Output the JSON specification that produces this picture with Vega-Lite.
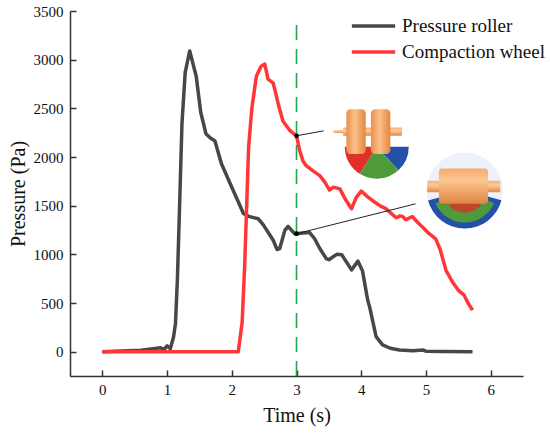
{
  "$schema": "https://vega.github.io/schema/vega-lite/v6.json",
  "width": 453,
  "height": 365,
  "autosize": "none",
  "padding": {"left": 70, "top": 11, "right": 27, "bottom": 59},
  "background": "white",
  "config": {
    "view": {"stroke": null},
    "font": "Liberation Serif",
    "axis": {
      "grid": false,
      "domainColor": "#333333",
      "domainWidth": 1.5,
      "tickColor": "#333333",
      "tickWidth": 1.5,
      "tickSize": -6,
      "labelFont": "Liberation Serif",
      "labelFontSize": 15,
      "labelColor": "#111111",
      "labelOverlap": false,
      "titleFont": "Liberation Serif",
      "titleFontSize": 20,
      "titleFontWeight": "normal",
      "titleColor": "#111111"
    }
  },
  "datasets": {
    "curves": [
      {"series": "Pressure roller", "t": 0, "p": 0},
      {"series": "Pressure roller", "t": 0.3, "p": 8},
      {"series": "Pressure roller", "t": 0.6, "p": 15},
      {"series": "Pressure roller", "t": 0.9, "p": 40},
      {"series": "Pressure roller", "t": 0.95, "p": 22},
      {"series": "Pressure roller", "t": 1.0, "p": 60},
      {"series": "Pressure roller", "t": 1.05, "p": 30},
      {"series": "Pressure roller", "t": 1.1, "p": 150},
      {"series": "Pressure roller", "t": 1.13, "p": 290},
      {"series": "Pressure roller", "t": 1.16, "p": 750},
      {"series": "Pressure roller", "t": 1.19, "p": 1420},
      {"series": "Pressure roller", "t": 1.23, "p": 2340},
      {"series": "Pressure roller", "t": 1.28, "p": 2870},
      {"series": "Pressure roller", "t": 1.35, "p": 3090},
      {"series": "Pressure roller", "t": 1.45, "p": 2830},
      {"series": "Pressure roller", "t": 1.52, "p": 2460},
      {"series": "Pressure roller", "t": 1.6, "p": 2240},
      {"series": "Pressure roller", "t": 1.67, "p": 2195},
      {"series": "Pressure roller", "t": 1.74, "p": 2165},
      {"series": "Pressure roller", "t": 1.84, "p": 1930},
      {"series": "Pressure roller", "t": 1.9, "p": 1840},
      {"series": "Pressure roller", "t": 2.0, "p": 1690},
      {"series": "Pressure roller", "t": 2.1, "p": 1540},
      {"series": "Pressure roller", "t": 2.18, "p": 1420},
      {"series": "Pressure roller", "t": 2.26, "p": 1390},
      {"series": "Pressure roller", "t": 2.41, "p": 1365},
      {"series": "Pressure roller", "t": 2.49, "p": 1300},
      {"series": "Pressure roller", "t": 2.64, "p": 1145},
      {"series": "Pressure roller", "t": 2.7, "p": 1050},
      {"series": "Pressure roller", "t": 2.74, "p": 1058},
      {"series": "Pressure roller", "t": 2.82, "p": 1246},
      {"series": "Pressure roller", "t": 2.87, "p": 1287},
      {"series": "Pressure roller", "t": 2.97, "p": 1212},
      {"series": "Pressure roller", "t": 3.0, "p": 1212},
      {"series": "Pressure roller", "t": 3.1, "p": 1220},
      {"series": "Pressure roller", "t": 3.2, "p": 1225},
      {"series": "Pressure roller", "t": 3.28, "p": 1160},
      {"series": "Pressure roller", "t": 3.36, "p": 1060},
      {"series": "Pressure roller", "t": 3.46, "p": 956},
      {"series": "Pressure roller", "t": 3.5, "p": 945},
      {"series": "Pressure roller", "t": 3.62, "p": 1000},
      {"series": "Pressure roller", "t": 3.7, "p": 995},
      {"series": "Pressure roller", "t": 3.85, "p": 840},
      {"series": "Pressure roller", "t": 3.95, "p": 930},
      {"series": "Pressure roller", "t": 4.02, "p": 830},
      {"series": "Pressure roller", "t": 4.1, "p": 530},
      {"series": "Pressure roller", "t": 4.13, "p": 460},
      {"series": "Pressure roller", "t": 4.23, "p": 155},
      {"series": "Pressure roller", "t": 4.33, "p": 70},
      {"series": "Pressure roller", "t": 4.45, "p": 35},
      {"series": "Pressure roller", "t": 4.59, "p": 17},
      {"series": "Pressure roller", "t": 4.8, "p": 10},
      {"series": "Pressure roller", "t": 4.95, "p": 17},
      {"series": "Pressure roller", "t": 5.0, "p": 5},
      {"series": "Pressure roller", "t": 5.3, "p": 2},
      {"series": "Pressure roller", "t": 5.72, "p": 0},
      {"series": "Compaction wheel", "t": 0, "p": 0},
      {"series": "Compaction wheel", "t": 2.1, "p": 0},
      {"series": "Compaction wheel", "t": 2.16, "p": 300},
      {"series": "Compaction wheel", "t": 2.2, "p": 900},
      {"series": "Compaction wheel", "t": 2.23, "p": 1500},
      {"series": "Compaction wheel", "t": 2.26, "p": 2100},
      {"series": "Compaction wheel", "t": 2.31, "p": 2500},
      {"series": "Compaction wheel", "t": 2.38, "p": 2830},
      {"series": "Compaction wheel", "t": 2.45, "p": 2930},
      {"series": "Compaction wheel", "t": 2.51, "p": 2955},
      {"series": "Compaction wheel", "t": 2.56, "p": 2800},
      {"series": "Compaction wheel", "t": 2.64, "p": 2760},
      {"series": "Compaction wheel", "t": 2.72, "p": 2540},
      {"series": "Compaction wheel", "t": 2.79, "p": 2370},
      {"series": "Compaction wheel", "t": 2.9, "p": 2270},
      {"series": "Compaction wheel", "t": 3.0, "p": 2218},
      {"series": "Compaction wheel", "t": 3.05, "p": 2065},
      {"series": "Compaction wheel", "t": 3.1, "p": 1960},
      {"series": "Compaction wheel", "t": 3.15, "p": 1911},
      {"series": "Compaction wheel", "t": 3.25, "p": 1860},
      {"series": "Compaction wheel", "t": 3.36, "p": 1809},
      {"series": "Compaction wheel", "t": 3.44, "p": 1740},
      {"series": "Compaction wheel", "t": 3.51, "p": 1660},
      {"series": "Compaction wheel", "t": 3.57, "p": 1690},
      {"series": "Compaction wheel", "t": 3.67, "p": 1672},
      {"series": "Compaction wheel", "t": 3.76, "p": 1560},
      {"series": "Compaction wheel", "t": 3.85, "p": 1468},
      {"series": "Compaction wheel", "t": 3.92, "p": 1580},
      {"series": "Compaction wheel", "t": 4.0, "p": 1650},
      {"series": "Compaction wheel", "t": 4.1, "p": 1590},
      {"series": "Compaction wheel", "t": 4.2, "p": 1540},
      {"series": "Compaction wheel", "t": 4.3, "p": 1495},
      {"series": "Compaction wheel", "t": 4.38, "p": 1470},
      {"series": "Compaction wheel", "t": 4.54, "p": 1376},
      {"series": "Compaction wheel", "t": 4.6, "p": 1395},
      {"series": "Compaction wheel", "t": 4.64, "p": 1389},
      {"series": "Compaction wheel", "t": 4.69, "p": 1355},
      {"series": "Compaction wheel", "t": 4.79, "p": 1389},
      {"series": "Compaction wheel", "t": 4.87, "p": 1330},
      {"series": "Compaction wheel", "t": 4.95, "p": 1279},
      {"series": "Compaction wheel", "t": 5.05, "p": 1212},
      {"series": "Compaction wheel", "t": 5.15, "p": 1160},
      {"series": "Compaction wheel", "t": 5.22, "p": 1050},
      {"series": "Compaction wheel", "t": 5.31, "p": 836},
      {"series": "Compaction wheel", "t": 5.41, "p": 716},
      {"series": "Compaction wheel", "t": 5.51, "p": 624},
      {"series": "Compaction wheel", "t": 5.59, "p": 580},
      {"series": "Compaction wheel", "t": 5.65, "p": 500},
      {"series": "Compaction wheel", "t": 5.72, "p": 427}
    ],
    "pointers": [
      {"t": 3, "p": 2218, "t2": 3.42, "p2": 2269},
      {"t": 3, "p": 1212, "t2": 4.84, "p2": 1519}
    ],
    "wheels": [
      {"t": 3.77, "t2": 4.07, "p": 2031, "p2": 2491},
      {"t": 4.15, "t2": 4.45, "p": 2031, "p2": 2491}
    ],
    "axles": [
      {"t": 3.57, "t2": 3.74, "p": 2246, "p2": 2276},
      {"t": 3.72, "t2": 4.63, "p": 2218, "p2": 2303},
      {"t": 5.02, "t2": 6.15, "p": 1638, "p2": 1757}
    ],
    "drums": [
      {"t": 5.2, "t2": 5.96, "p": 1519, "p2": 1883}
    ],
    "bed1": [{"t": 4.24, "p": 2106}],
    "bed2": [{"t": 5.6, "p": 1655}]
  },
  "layer": [
    {
      "data": {"values": [{"t": 3, "top": 3380, "bottom": -250}]},
      "mark": {"type": "rule", "color": "#1ea84e", "strokeWidth": 1.6, "strokeDash": [15, 9]},
      "encoding": {
        "x": {"field": "t", "type": "quantitative"},
        "y": {"field": "bottom", "type": "quantitative"},
        "y2": {"field": "top"}
      }
    },
    {
      "data": {"name": "curves"},
      "mark": {"type": "line", "strokeWidth": 3.5, "strokeJoin": "round"},
      "encoding": {
        "x": {
          "field": "t", "type": "quantitative", "title": "Time (s)",
          "scale": {"domain": [-0.5, 6.5], "nice": false, "zero": false},
          "axis": {
            "values": [0, 0.5, 1, 1.5, 2, 2.5, 3, 3.5, 4, 4.5, 5, 5.5, 6, 6.5],
            "labelExpr": "datum.value % 1 ? '' : datum.label",
            "format": "d",
            "labelPadding": 12,
            "titlePadding": 8
          }
        },
        "y": {
          "field": "p", "type": "quantitative", "title": "Pressure (Pa)",
          "scale": {"domain": [-250, 3500], "nice": false, "zero": false},
          "axis": {
            "values": [0, 250, 500, 750, 1000, 1250, 1500, 1750, 2000, 2250, 2500, 2750, 3000, 3250, 3500],
            "labelExpr": "datum.value % 500 ? '' : datum.label",
            "format": "d",
            "labelPadding": 13,
            "titlePadding": 5
          }
        },
        "color": {
          "field": "series", "type": "nominal",
          "scale": {"domain": ["Pressure roller", "Compaction wheel"], "range": ["#474747", "#ff3636"]},
          "legend": {
            "title": null,
            "orient": "none",
            "legendX": 293,
            "legendY": 4.5,
            "padding": 0,
            "symbolType": "M-2.5,0H2.5",
            "symbolSize": 300,
            "symbolStrokeWidth": 3.5,
            "labelFont": "Liberation Serif",
            "labelFontSize": 19,
            "labelColor": "#111111",
            "labelOffset": 18,
            "rowPadding": 5
          }
        },
        "order": {"field": "t", "type": "quantitative"}
      }
    },
    {
      "data": {"name": "pointers"},
      "mark": {"type": "rule", "color": "#222222", "strokeWidth": 1},
      "encoding": {
        "x": {"field": "t", "type": "quantitative"},
        "y": {"field": "p", "type": "quantitative"},
        "x2": {"field": "t2"},
        "y2": {"field": "p2"}
      }
    },
    {
      "data": {"name": "pointers"},
      "mark": {"type": "circle", "color": "#000000", "size": 22, "opacity": 1},
      "encoding": {
        "x": {"field": "t", "type": "quantitative"},
        "y": {"field": "p", "type": "quantitative"}
      }
    },
    {
      "data": {"name": "bed2"},
      "mark": {"type": "arc", "radius": 38, "theta": 0, "theta2": 6.2832, "color": "#c4d2ee", "opacity": 0.3},
      "encoding": {
        "x": {"field": "t", "type": "quantitative"},
        "y": {"field": "p", "type": "quantitative"}
      }
    },
    {
      "data": {"name": "bed2"},
      "mark": {"type": "arc", "radius": 38, "theta": 1.83, "theta2": 4.45, "color": "#2350a8"},
      "encoding": {
        "x": {"field": "t", "type": "quantitative"},
        "y": {"field": "p", "type": "quantitative"}
      }
    },
    {
      "data": {"name": "bed2"},
      "mark": {"type": "arc", "radius": 32, "theta": 1.98, "theta2": 4.3, "color": "#4f9a3a"},
      "encoding": {
        "x": {"field": "t", "type": "quantitative"},
        "y": {"field": "p", "type": "quantitative"}
      }
    },
    {
      "data": {"name": "bed2"},
      "mark": {"type": "arc", "radius": 22, "theta": 2.3, "theta2": 3.95, "color": "#d8322a", "opacity": 0.8},
      "encoding": {
        "x": {"field": "t", "type": "quantitative"},
        "y": {"field": "p", "type": "quantitative"}
      }
    },
    {
      "data": {"name": "bed1"},
      "mark": {"type": "arc", "radius": 32, "theta": 1.5708, "theta2": 2.4, "color": "#2350a8"},
      "encoding": {
        "x": {"field": "t", "type": "quantitative"},
        "y": {"field": "p", "type": "quantitative"}
      }
    },
    {
      "data": {"name": "bed1"},
      "mark": {"type": "arc", "radius": 32, "theta": 2.4, "theta2": 3.7, "color": "#4f9a3a"},
      "encoding": {
        "x": {"field": "t", "type": "quantitative"},
        "y": {"field": "p", "type": "quantitative"}
      }
    },
    {
      "data": {"name": "bed1"},
      "mark": {"type": "arc", "radius": 32, "theta": 3.7, "theta2": 4.7124, "color": "#e0302a"},
      "encoding": {
        "x": {"field": "t", "type": "quantitative"},
        "y": {"field": "p", "type": "quantitative"}
      }
    },
    {
      "data": {"name": "axles"},
      "mark": {
        "type": "rect", "cornerRadius": 1,
        "color": {"gradient": "linear", "x1": 0, "y1": 0, "x2": 0, "y2": 1,
          "stops": [{"offset": 0, "color": "#f6b27a"}, {"offset": 0.4, "color": "#fcc896"}, {"offset": 1, "color": "#e2873f"}]}
      },
      "encoding": {
        "x": {"field": "t", "type": "quantitative"},
        "x2": {"field": "t2"},
        "y": {"field": "p", "type": "quantitative"},
        "y2": {"field": "p2"}
      }
    },
    {
      "data": {"name": "wheels"},
      "mark": {
        "type": "rect", "cornerRadius": 4,
        "color": {"gradient": "linear", "x1": 0, "y1": 0, "x2": 1, "y2": 0,
          "stops": [{"offset": 0, "color": "#e8904c"}, {"offset": 0.45, "color": "#fbbf88"}, {"offset": 1, "color": "#e4863f"}]}
      },
      "encoding": {
        "x": {"field": "t", "type": "quantitative"},
        "x2": {"field": "t2"},
        "y": {"field": "p", "type": "quantitative"},
        "y2": {"field": "p2"}
      }
    },
    {
      "data": {"name": "drums"},
      "mark": {
        "type": "rect", "cornerRadius": 3,
        "color": {"gradient": "linear", "x1": 0, "y1": 0, "x2": 0, "y2": 1,
          "stops": [{"offset": 0, "color": "#f4ab70"}, {"offset": 0.35, "color": "#fcc690"}, {"offset": 1, "color": "#e0843e"}]}
      },
      "encoding": {
        "x": {"field": "t", "type": "quantitative"},
        "x2": {"field": "t2"},
        "y": {"field": "p", "type": "quantitative"},
        "y2": {"field": "p2"}
      }
    }
  ]
}
